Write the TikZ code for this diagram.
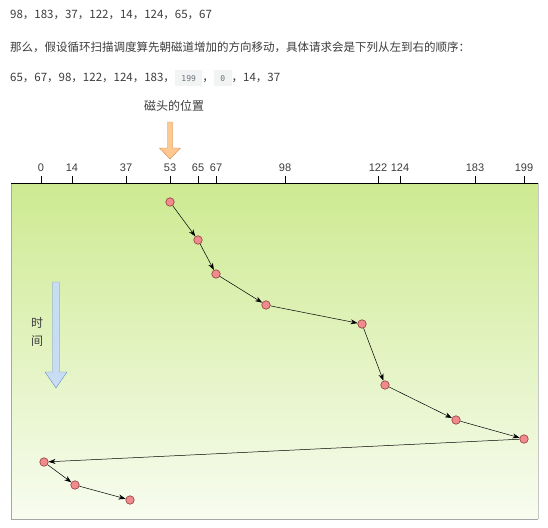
\documentclass[tikz,border=0pt]{standalone}
\usepackage{fontspec}
\setmainfont{Noto Sans CJK SC}
\newfontfamily\tickfont{Liberation Sans}
\newfontfamily\codefont{DejaVu Sans Mono}
\usetikzlibrary{arrows.meta}

\definecolor{textgray}{HTML}{3C3C3C}
\definecolor{codebg}{HTML}{F2F3F3}
\definecolor{codegray}{HTML}{6A737D}
\definecolor{trackfill}{HTML}{F08A8C}
\definecolor{trackline}{HTML}{8E3E3E}
\definecolor{headfill}{HTML}{FFC890}
\definecolor{headline}{HTML}{C8864A}
\definecolor{timefill}{HTML}{C8DCF4}
\definecolor{timeline}{HTML}{6C8EBF}
\definecolor{topgreen}{HTML}{CDEA91}
\definecolor{bottomgreen}{HTML}{F8FCF0}

\newcommand{\codebox}[1]{{\setlength{\fboxsep}{0pt}\colorbox{codebg}{\rule[-4.5pt]{0pt}{16pt}\hspace{6.5pt}{\codefont\fontsize{8}{10}\selectfont\color{codegray}#1}\hspace{6.5pt}}}}

\tikzset{
	textline/.style={anchor=west, inner sep=0pt, text=textgray, font=\fontsize{11.5}{14}\selectfont},
	track/.style={circle, draw=trackline, fill=trackfill, line width=0.6pt, inner sep=0pt, minimum size=8.5pt},
	tick label/.style={font=\tickfont\fontsize{11}{13}\selectfont, text=textgray, inner sep=0pt},
}

\begin{document}
\begin{tikzpicture}[x=1pt, y=-1pt]
		\useasboundingbox (0,0) rectangle (548,527);
		% the text above
		\node[textline] (l_1) at (10,15) {98，183，37，122，14，124，65，67};
		\node[textline] (l_2) at (10,47) {那么，假设循环扫描调度算先朝磁道增加的方向移动，具体请求会是下列从左到右的顺序：};
		\node[textline] (l_3) at (10,78) {65，67，98，122，124，183，\codebox{199}，\codebox{0}，14，37};
		% the disk
		\shade[top color=topgreen, bottom color=bottomgreen] (11,183) rectangle (538,519);
		\draw[gray!70] (11,183) -- (11,519) -- (538,519);
		\draw[gray!45, line width=1pt] (538,519) -- (538,183);
		\draw[line width=1pt] (11,183) -- (538,183);
		\foreach \x/\t in {41/0, 72/14, 126/37, 170/53, 198/65, 216/67, 285/98, 378/122, 400/124, 475/183, 524/199}
			{\draw (\x,176) -- (\x,183);
			 \node[tick label] at (\x,168) {\t};}
		% head arrow
		\node[text=textgray, font=\fontsize{12}{14}\selectfont] (head) at (174,106) {磁头的位置};
		\draw[headline, fill=headfill] (167.5,122) -- (172.5,122) -- (172.5,148) -- (180.5,148) -- (170,159) -- (159.5,148) -- (167.5,148) -- cycle;
		% time arrow
		\draw[timeline, fill=timefill] (52.5,282) -- (59.5,282) -- (59.5,372) -- (67,372) -- (56,388) -- (45,372) -- (52.5,372) -- cycle;
		\node[align=center, text=textgray, font=\fontsize{12}{18}\selectfont] (time) at (37,332) {时\\间};
		% the requests
		\node[track] (t_53) 	at (170,202) 	{};
		\node[track] (t_65) 	at (198,240) 	{};
		\node[track] (t_67) 	at (216,274) 	{};
		\node[track] (t_98) 	at (266,305) 	{};
		\node[track] (t_122) 	at (362,324) 	{};
		\node[track] (t_124) 	at (385,385) 	{};
		\node[track] (t_183) 	at (456,420) 	{};
		\node[track] (t_199) 	at (524,439) 	{};
		\node[track] (t_0) 		at (44,462) 	{};
		\node[track] (t_14) 	at (75,485) 	{};
		\node[track] (t_37) 	at (130,500) 	{};
		\path[-{Stealth[length=7pt,width=5pt]}, line width=0.5pt]
			(t_53) 	edge 	(t_65)
			(t_65) 	edge 	(t_67)
			(t_67) 	edge 	(t_98)
			(t_98) 	edge 	(t_122)
			(t_122) edge 	(t_124)
			(t_124) edge 	(t_183)
			(t_183) edge 	(t_199)
			(t_199) edge 	(t_0)
			(t_0) 	edge 	(t_14)
			(t_14) 	edge 	(t_37);
	\end{tikzpicture}
\end{document}
